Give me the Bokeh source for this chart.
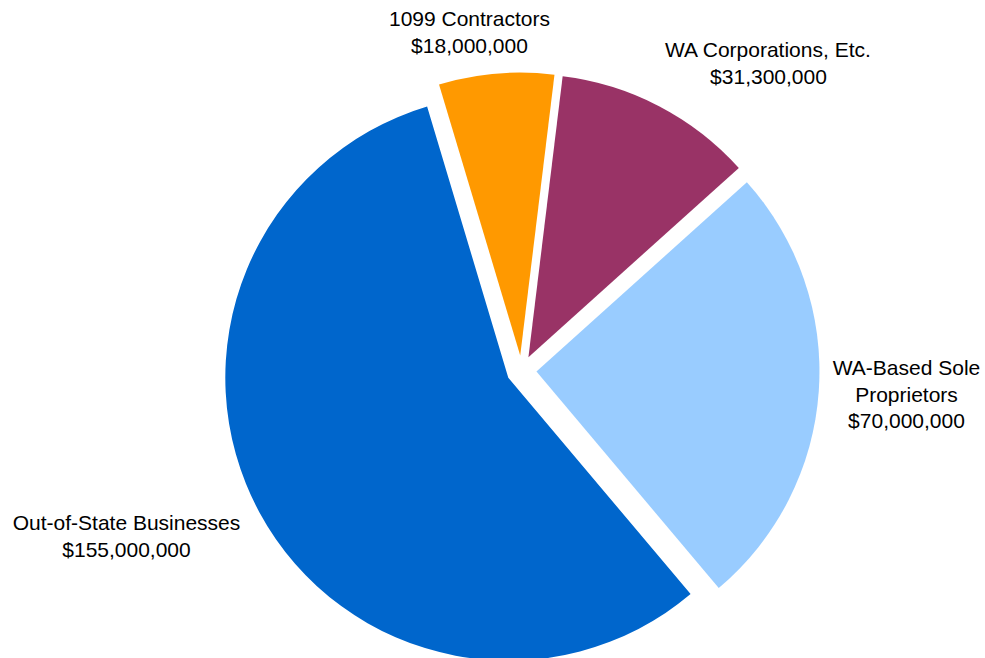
import numpy as np
from bokeh.plotting import figure
from bokeh.models import Range1d, ColumnDataSource
from bokeh.core.properties import value
from bokeh.embed import file_html
from bokeh.resources import INLINE

# ---- data ----
categories = ["Out-of-State Businesses", "1099 Contractors",
              "WA Corporations, Etc.", "WA-Based Sole Proprietors"]
label_names = [["Out-of-State Businesses"], ["1099 Contractors"],
               ["WA Corporations, Etc."], ["WA-Based Sole", "Proprietors"]]
amounts = [155_000_000, 18_000_000, 31_300_000, 70_000_000]
colors = ["#0066CC", "#FF9900", "#993366", "#99CCFF"]

# ---- layout (screenshot pixel coordinates) ----
W, H = 985, 658
center_x, center_y = 521, 370
radius = 283
explode = 15
first_angle = 139.9  # degrees clockwise from 12 o'clock
label_anchor = [(126, 522), (469, 18), (768, 49), (906, 367)]
line_gap = 26.5

def py(y):  # screen y -> data y
    return H - y

vals = np.array(amounts, dtype=float)
spans = vals / vals.sum() * 360.0
th_start = first_angle + np.concatenate([[0], np.cumsum(spans)[:-1]])
th_end = th_start + spans
th_mid = (th_start + th_end) / 2.0

xs = center_x + explode * np.sin(np.radians(th_mid))
ys = [py(center_y - explode * np.cos(np.radians(t))) for t in th_mid]

src = ColumnDataSource(dict(
    x=xs, y=ys,
    start=np.radians(90 - th_start),
    end=np.radians(90 - th_end),
    color=colors,
))

p = figure(width=W, height=H, x_range=Range1d(0, W), y_range=Range1d(0, H),
           output_backend="svg", toolbar_location=None,
           x_axis_location=None, y_axis_location=None, min_border=0)
p.grid.visible = False
p.outline_line_color = None

p.wedge(x="x", y="y", radius=radius, start_angle="start", end_angle="end",
        direction="clock", fill_color="color", line_color=None, source=src)

tx, ty, tt = [], [], []
for names, amt, (ax, ay) in zip(label_names, amounts, label_anchor):
    lines = names + [f"${amt:,.0f}"]
    for i, ln in enumerate(lines):
        tx.append(ax)
        ty.append(py(ay + i * line_gap))
        tt.append(ln)

p.text(x=tx, y=ty, text=tt, text_align="center", text_baseline="alphabetic",
       text_font=value("Liberation Sans"), text_font_size=value("21px"),
       text_color="black")

open("out.html", "w").write(file_html(p, INLINE))
